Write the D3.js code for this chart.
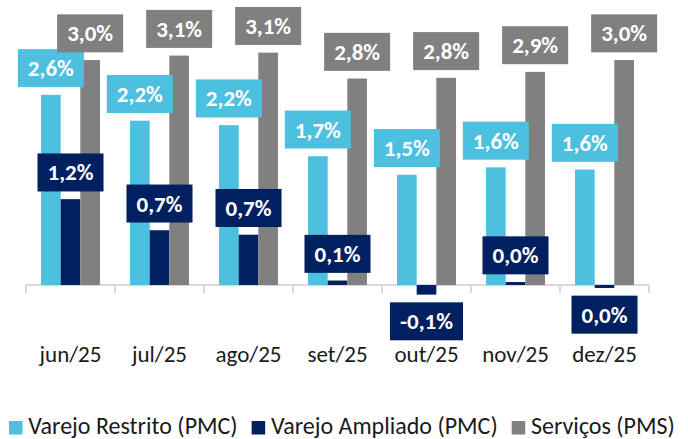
<!DOCTYPE html>
<html><head><meta charset="utf-8">
<script src="https://cdn.jsdelivr.net/npm/d3@7"></script>
<style>
body{margin:0;background:#fff;}
svg{display:block;font-family:Carlito,Lato,"Open Sans",sans-serif;}
</style></head>
<body><svg id="c" width="688" height="439"></svg>
<script>
const categories = ["jun/25","jul/25","ago/25","set/25","out/25","nov/25","dez/25"];
const seriesNames = ["Varejo Restrito (PMC)","Varejo Ampliado (PMC)","Serviços (PMS)"];
const varejoRestrito = [2.57, 2.22, 2.16, 1.74, 1.49, 1.59, 1.56];
const varejoAmpliado = [1.16, 0.74, 0.68, 0.06, -0.13, 0.04, -0.04];
const servicos = [3.04, 3.10, 3.14, 2.79, 2.80, 2.88, 3.04];
const colors = ["#4dbfdf","#002060","#808080"];

const seriesValues = [varejoRestrito, varejoAmpliado, servicos];
const svg = d3.select("#c");

const x = d3.scaleBand().domain(categories).range([26, 649]).padding(0);
const bw = x.bandwidth();
const x1 = d3.scaleBand().domain(seriesNames).range([bw*0.169, bw*0.831]).padding(0);
const y = d3.scaleLinear().domain([0, 3]).range([285, 285 - 222]);

const fmt = v => { let r = Math.round(v*10)/10; if (Math.abs(r) < 1e-9) r = 0; return r.toFixed(1).replace(".", ",") + "%"; };

// axis
const axisG = svg.append("g");
axisG.append("line").attr("x1", x.range()[0]).attr("x2", x.range()[1])
  .attr("y1", y(0)).attr("y2", y(0)).attr("stroke", "#d9d9d9").attr("stroke-width", 2);
const bounds = categories.map(c => x(c)).concat([x.range()[1]]);
axisG.selectAll("line.tick").data(bounds).join("line").attr("class","tick")
  .attr("x1", d => d).attr("x2", d => d).attr("y1", y(0)).attr("y2", y(0) + 8)
  .attr("stroke", "#d9d9d9").attr("stroke-width", 2);
axisG.selectAll("text.cat").data(categories).join("text").attr("class","cat")
  .attr("x", d => x(d) + bw/2).attr("y", 362).attr("text-anchor","middle")
  .attr("font-size", 23).attr("fill", "#1a1a1a").text(d => d);

// bars
const data = [];
seriesNames.forEach((s, si) => categories.forEach((c, ci) => data.push({s, si, c, v: seriesValues[si][ci]})));
svg.append("g").selectAll("rect").data(data).join("rect")
  .attr("x", d => x(d.c) + x1(d.s)).attr("width", x1.bandwidth())
  .attr("y", d => y(Math.max(0, d.v))).attr("height", d => Math.abs(y(d.v) - y(0)))
  .attr("fill", d => colors[d.si]);

// labels
const lg = svg.append("g");
const boxH = 38, gap = 7.7;
data.forEach(d => {
  const cx = x(d.c) + x1(d.s) + x1.bandwidth()/2;
  const g = lg.append("g");
  const t = g.append("text").attr("text-anchor","middle").attr("font-weight","bold")
    .attr("font-size", 23).attr("fill","#fff").text(fmt(d.v));
  const w = t.node().getComputedTextLength() + 20;
  const top = d.v >= 0 ? y(d.v) - gap - boxH : y(d.v) + gap;
  g.insert("rect","text").attr("x", cx - w/2).attr("y", top).attr("width", w).attr("height", boxH)
    .attr("fill", colors[d.si]);
  t.attr("x", cx).attr("y", top + boxH/2 + 8);
});

// legend
const leg = svg.append("g");
let lx = 9;
seriesNames.forEach((s, i) => {
  leg.append("rect").attr("x", lx).attr("y", 421).attr("width", 13.5).attr("height", 13.5).attr("fill", colors[i]);
  const t = leg.append("text").attr("x", lx + 19.3).attr("y", 434.3).attr("font-size", 24).attr("fill","#1a1a1a").text(s);
  lx = lx + 19.3 + t.node().getComputedTextLength() + 14;
});
</script></body></html>
